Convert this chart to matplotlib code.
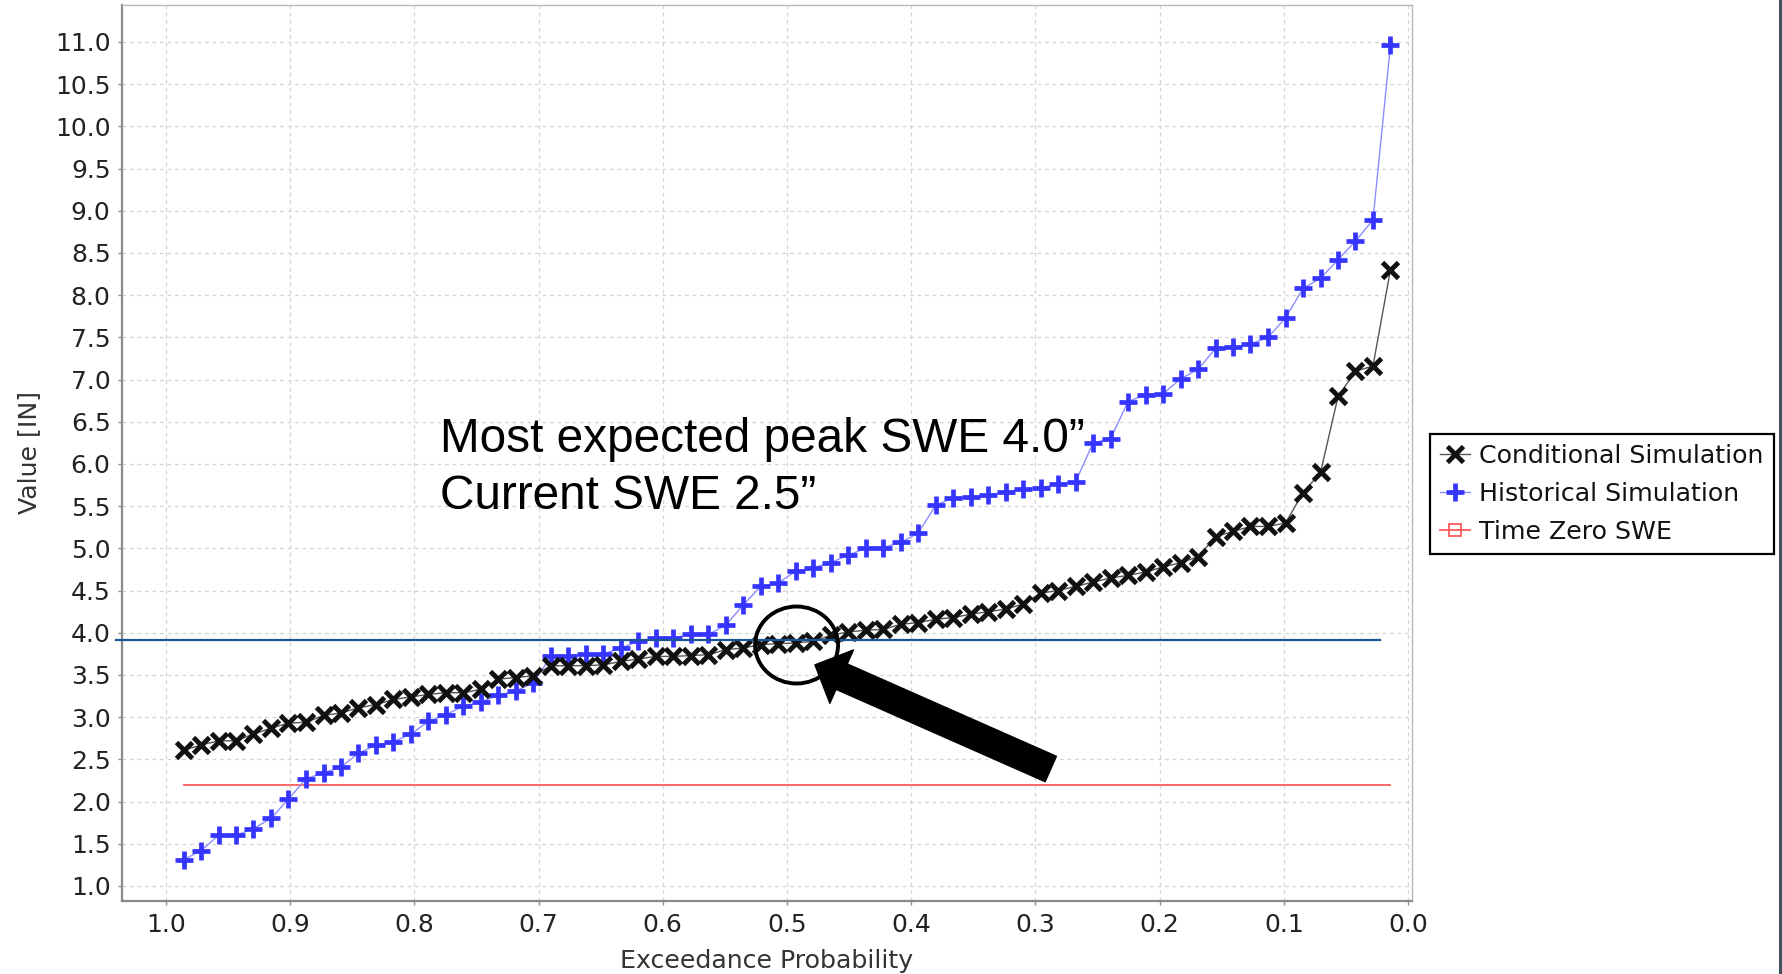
import matplotlib
matplotlib.use("Agg")
import matplotlib.pyplot as plt
from matplotlib.lines import Line2D
from matplotlib.patches import Ellipse, FancyArrowPatch

# ---------------- data ----------------
exceedance = [0.9859, 0.9718, 0.9577, 0.9437, 0.9296, 0.9155, 0.9014, 0.8873, 0.8732, 0.8592,
              0.8451, 0.8310, 0.8169, 0.8028, 0.7887, 0.7746, 0.7606, 0.7465, 0.7324, 0.7183,
              0.7042, 0.6901, 0.6761, 0.6620, 0.6479, 0.6338, 0.6197, 0.6056, 0.5915, 0.5775,
              0.5634, 0.5493, 0.5352, 0.5211, 0.5070, 0.4930, 0.4789, 0.4648, 0.4507, 0.4366,
              0.4225, 0.4085, 0.3944, 0.3803, 0.3662, 0.3521, 0.3380, 0.3239, 0.3099, 0.2958,
              0.2817, 0.2676, 0.2535, 0.2394, 0.2254, 0.2113, 0.1972, 0.1831, 0.1690, 0.1549,
              0.1408, 0.1268, 0.1127, 0.0986, 0.0845, 0.0704, 0.0563, 0.0423, 0.0282, 0.0141]

conditional = [2.61, 2.67, 2.72, 2.72, 2.80, 2.87, 2.93, 2.94, 3.02, 3.05,
               3.11, 3.15, 3.21, 3.24, 3.27, 3.29, 3.29, 3.33, 3.45, 3.47,
               3.49, 3.61, 3.61, 3.61, 3.62, 3.66, 3.69, 3.72, 3.72, 3.73,
               3.74, 3.80, 3.82, 3.86, 3.87, 3.88, 3.90, 3.97, 4.01, 4.03,
               4.04, 4.10, 4.12, 4.16, 4.18, 4.22, 4.25, 4.28, 4.34, 4.47,
               4.50, 4.55, 4.60, 4.65, 4.68, 4.72, 4.78, 4.83, 4.90, 5.14,
               5.20, 5.26, 5.26, 5.30, 5.66, 5.90, 6.80, 7.10, 7.16, 8.30]

historical = [1.31, 1.42, 1.60, 1.60, 1.68, 1.80, 2.03, 2.27, 2.34, 2.41,
              2.57, 2.67, 2.71, 2.80, 2.95, 3.03, 3.13, 3.18, 3.26, 3.31,
              3.41, 3.72, 3.73, 3.75, 3.75, 3.82, 3.90, 3.94, 3.94, 3.98,
              3.98, 4.09, 4.33, 4.55, 4.59, 4.73, 4.77, 4.83, 4.92, 5.00,
              5.01, 5.07, 5.18, 5.51, 5.60, 5.61, 5.63, 5.67, 5.70, 5.72,
              5.76, 5.79, 6.25, 6.30, 6.74, 6.82, 6.83, 7.01, 7.12, 7.37,
              7.38, 7.42, 7.50, 7.73, 8.08, 8.20, 8.42, 8.64, 8.89, 10.96]

time_zero_swe = 2.2
most_expected_line = 3.92

x_ticks = [1.0, 0.9, 0.8, 0.7, 0.6, 0.5, 0.4, 0.3, 0.2, 0.1, 0.0]
y_ticks = [1.0, 1.5, 2.0, 2.5, 3.0, 3.5, 4.0, 4.5, 5.0, 5.5, 6.0, 6.5, 7.0, 7.5, 8.0,
           8.5, 9.0, 9.5, 10.0, 10.5, 11.0]

# ---------------- figure ----------------
W, H = 1783, 974
fig = plt.figure(figsize=(W / 100, H / 100), dpi=100)
fig.patch.set_facecolor("white")
ax = fig.add_axes([121.7 / W, 1 - 901 / H, (1411.7 - 121.7) / W, (901 - 5) / H])

ax.set_xlim(1.0357, -0.003)
ax.set_ylim(0.822, 11.438)

ax.set_xticks(x_ticks)
ax.set_xticklabels([f"{t:.1f}" for t in x_ticks])
ax.set_yticks(y_ticks)
ax.set_yticklabels([f"{t:.1f}" for t in y_ticks])

ax.grid(True, color="#d4d4d4", linestyle=(0, (3, 3)), linewidth=0.9)
ax.set_axisbelow(True)

for s in ["top", "right"]:
    ax.spines[s].set_color("#b8b8b8")
    ax.spines[s].set_linewidth(1.0)
for s in ["left", "bottom"]:
    ax.spines[s].set_color("#8a8a8a")
    ax.spines[s].set_linewidth(1.6)

ax.tick_params(axis="both", colors="#8a8a8a", length=3, width=1, labelcolor="#222222",
               labelsize=18)
ax.tick_params(axis="y", pad=5)
ax.tick_params(axis="x", pad=6)

ax.set_xlabel("Exceedance Probability", fontsize=18.2, color="#333333", labelpad=8)
ax.set_ylabel("Value [IN]", fontsize=18.2, color="#333333", labelpad=10)

# series
ax.plot([exceedance[0], exceedance[-1]], [time_zero_swe, time_zero_swe],
        color="#ff5c5c", linewidth=1.3, zorder=3)
ax.plot(exceedance, historical, color="#8c8cff", linewidth=1.0, marker="+",
        markersize=13, markeredgewidth=3.4, markeredgecolor="#3535ff", zorder=4)
ax.plot(exceedance, conditional, color="#555555", linewidth=1.0, marker="x",
        markersize=11.5, markeredgewidth=3.5, markeredgecolor="#111111", zorder=5)

# annotation: reference line
ax.plot([1.0405, 0.0225], [most_expected_line, most_expected_line], color="#1a5493",
        linewidth=1.6, clip_on=False, zorder=6)

# circle
ax.add_patch(Ellipse((0.4923, 3.855), width=0.0668, height=0.912, fill=False,
                     edgecolor="black", linewidth=2.8, zorder=7))

# arrow
arrow = FancyArrowPatch((0.2876, 2.386), (0.4775, 3.62),
                        arrowstyle="simple,head_length=21,head_width=42,tail_width=20",
                        mutation_scale=1, color="black", shrinkA=0, shrinkB=0, zorder=8)
ax.add_patch(arrow)

# annotation text
fig.text(440 / W, 1 - 451.7 / H, "Most expected peak SWE 4.0\u201d",
         fontsize=34.4, family="Liberation Sans", va="baseline", ha="left", color="black")
fig.text(440 / W, 1 - 509.3 / H, "Current SWE 2.5\u201d",
         fontsize=34.4, family="Liberation Sans", va="baseline", ha="left", color="black")

# legend
handles = [
    Line2D([], [], color="#555555", linewidth=1.0, marker="x", markersize=11,
           markeredgewidth=3.4, markeredgecolor="#111111"),
    Line2D([], [], color="#8c8cff", linewidth=1.0, marker="+", markersize=13,
           markeredgewidth=3.4, markeredgecolor="#3535ff"),
    Line2D([], [], color="#ff5c5c", linewidth=1.3, marker="s", markersize=9,
           markerfacecolor="none", markeredgecolor="#ff5c5c", markeredgewidth=1.3),
]
labels = ["Conditional Simulation", "Historical Simulation", "Time Zero SWE"]
leg = fig.legend(handles, labels, loc="upper left",
                 bbox_to_anchor=(1430 / W, 1 - 434 / H), bbox_transform=fig.transFigure,
                 borderaxespad=0, fontsize=18.2, frameon=True, fancybox=False,
                 edgecolor="black", framealpha=1, handlelength=1.2, handletextpad=0.35,
                 labelspacing=0.55, borderpad=0.4)
leg.get_frame().set_linewidth(1.6)
for t in leg.get_texts():
    t.set_color("#111111")

# right window edge line
fig.add_artist(Line2D([1780 / W, 1780 / W], [0, 1], transform=fig.transFigure,
                      color="#44505c", linewidth=2.2))

fig.savefig("out.png", dpi=100)
